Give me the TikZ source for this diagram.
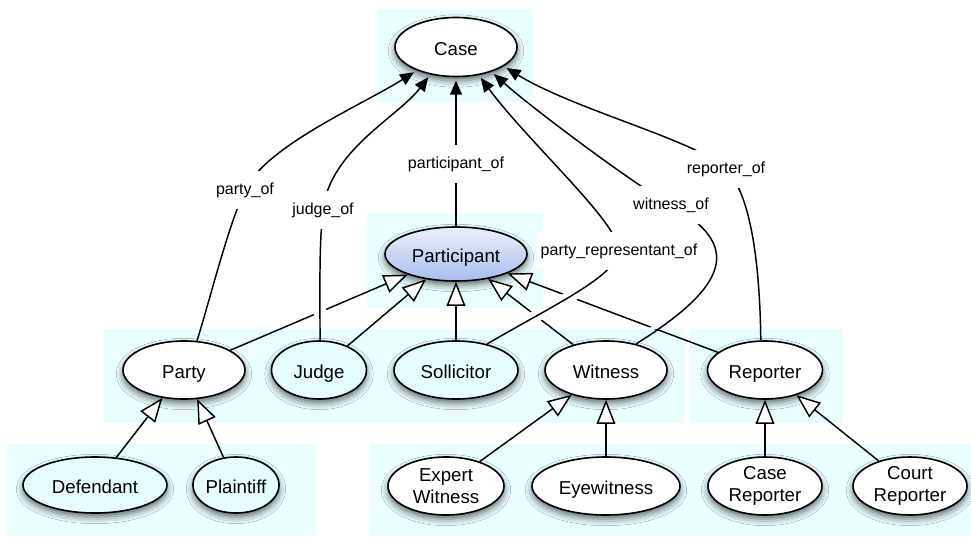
\documentclass[tikz,border=0pt]{standalone}
\usepackage{fontspec}
\setmainfont{Liberation Sans}
\usetikzlibrary{arrows.meta,shapes.geometric,shadows.blur}

\definecolor{panel}{RGB}{232,254,255}
\definecolor{tint}{RGB}{230,253,253}
\definecolor{partop}{RGB}{234,240,252}
\definecolor{parbot}{RGB}{170,190,236}

% connector paths from the related class up to Case
\newcommand\pPartyOf{(party.66) .. controls (209,303) and (228,226) .. (245,190) .. controls (266,146) and (362,105) .. (case.211)}
\newcommand\pJudgeOf{(judge.88) .. controls (320,290) and (319,245) .. (323,210) .. controls (330,150) and (398,117) .. (case.227)}
\newcommand\pRepOf{(sollicitor.40) .. controls (550,307) and (617,276) .. (619,251) .. controls (620,224) and (529,143) .. (case.309)}
\newcommand\pWitnessOf{(witness.41) .. controls (730,285) and (742,245) .. (671,205) .. controls (632,183) and (532,108) .. (case.325)}
\newcommand\pReporterOf{(reporter.98) .. controls (760,280) and (754,197) .. (726,169) .. controls (698,141) and (575,110) .. (case.338)}

\begin{document}
\begin{tikzpicture}[x=0.75pt,y=-0.75pt,
  cls/.style={ellipse, draw=black, line width=1.2pt, fill=white, inner sep=0pt,
    font=\fontsize{14}{16}\selectfont, align=center,
    blur shadow={shadow xshift=0pt, shadow yshift=-3pt, shadow blur radius=5pt, shadow opacity=60}},
  oneline/.style={text height=12.5pt, text depth=0pt},
  tinted/.style={fill=tint},
  sz/.style 2 args={minimum width={#1*0.75pt}, minimum height={#2*0.75pt}},
  isa/.style={line width=1.1pt, -{Triangle[fill=white, length=18pt, width=14pt]}},
  rel/.style={line width=1.1pt, shorten >=2.5pt, -{Triangle[length=10.5pt, width=9pt]}},
  halo/.style={draw=white, line width=9pt},
  lbl/.style={fill=white, inner xsep=3pt, inner ysep=0pt, minimum height=28pt,
    font=\fontsize{12}{14}\selectfont},
  panelbox/.style={fill=panel, draw=none}]

\useasboundingbox (0,0) rectangle (971,536);

% background panels
\fill[panelbox] (377,9) rectangle (533,102);
\fill[panelbox] (367,213) rectangle (543,308);
\fill[panelbox] (104,329) rectangle (685,423);
\fill[panelbox] (690,329) rectangle (843,423);
\fill[panelbox] (7,444) rectangle (316,536);
\fill[panelbox] (370,444) rectangle (971,536);

% classes
\node[cls, oneline, sz={122}{59}] (case) at (456,47) {Case};
\node[cls, oneline, sz={142}{54}, top color=partop, bottom color=parbot] (participant) at (456,254) {Participant};
\node[cls, oneline, sz={122}{58}] (party) at (184,370) {Party};
\node[cls, oneline, tinted, sz={95}{58}] (judge) at (319,370) {Judge};
\node[cls, oneline, tinted, sz={124}{58}] (sollicitor) at (456,370) {Sollicitor};
\node[cls, oneline, sz={122}{58}] (witness) at (606,370) {Witness};
\node[cls, oneline, sz={115}{58}] (reporter) at (765,370) {Reporter};
\node[cls, oneline, tinted, sz={144}{56}] (defendant) at (95,485) {Defendant};
\node[cls, oneline, tinted, sz={84}{56}] (plaintiff) at (236,485) {Plaintiff};
\node[cls, sz={116}{58}] (expert) at (446,486) {Expert\\Witness};
\node[cls, oneline, sz={148}{58}] (eyewitness) at (606,486) {Eyewitness};
\node[cls, sz={114}{58}] (casereporter) at (765,486) {Case\\Reporter};
\node[cls, sz={114}{58}] (courtreporter) at (910,486) {Court\\Reporter};

% generalisation
\draw[isa] (party) -- (participant);
\draw[isa] (judge) -- (participant);
\draw[isa] (sollicitor) -- (participant);
\draw[isa] (witness) -- (participant);
\draw[isa] (reporter) -- (participant);
\draw[isa] (defendant) -- (party);
\draw[isa] (plaintiff) -- (party);
\draw[isa] (expert) -- (witness);
\draw[isa] (eyewitness) -- (witness);
\draw[isa] (casereporter) -- (reporter);
\draw[isa] (courtreporter) -- (reporter);

% line hops where the associations cross the generalisation lines
\begin{scope}[even odd rule]
  \clip (0,0) rectangle (971,536)
    (377,9) rectangle (533,102) (367,213) rectangle (543,308)
    (104,329) rectangle (685,423) (690,329) rectangle (843,423)
    (7,444) rectangle (316,536) (370,444) rectangle (971,536);
  \draw[halo] \pPartyOf;
  \draw[halo] \pJudgeOf;
  \draw[halo] \pRepOf;
  \draw[halo] \pWitnessOf;
  \draw[halo] \pReporterOf;
\end{scope}

% associations to Case
\draw[rel] \pPartyOf;
\draw[rel] \pJudgeOf;
\draw[rel] (participant) -- (case);
\draw[rel] \pRepOf;
\draw[rel] \pWitnessOf;
\draw[rel] \pReporterOf;

% association labels
\node[lbl] (lparty) at (245,190) {party\_of};
\node[lbl] (ljudge) at (323,210) {judge\_of};
\node[lbl] (lpart) at (456,164) {participant\_of};
\node[lbl] (lrep) at (619,251) {party\_representant\_of};
\node[lbl] (lwit) at (671,205) {witness\_of};
\node[lbl] (lreporter) at (726,169) {reporter\_of};
\end{tikzpicture}
\end{document}
